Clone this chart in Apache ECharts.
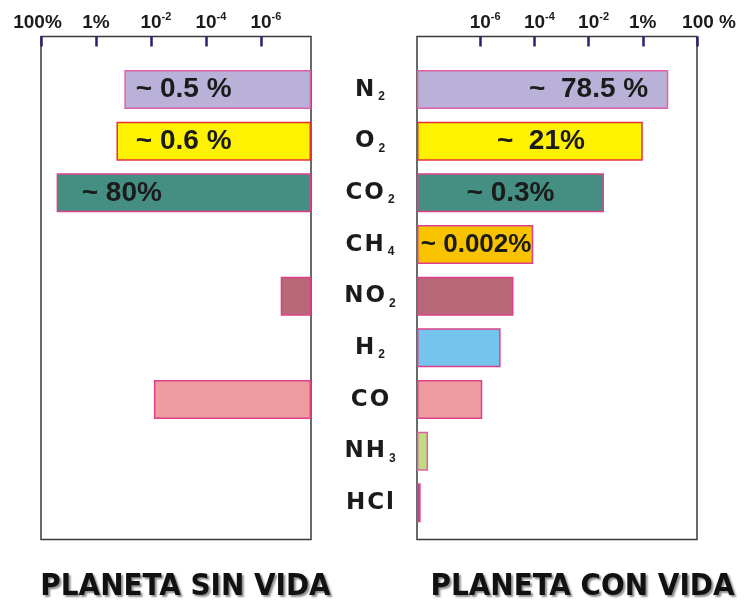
<!DOCTYPE html>
<html>
<head>
<meta charset="utf-8">
<title>Planeta sin vida / con vida</title>
<script src="https://cdn.jsdelivr.net/npm/echarts@6.0.0/dist/echarts.min.js"></script>
<style>
    html, body { margin: 0; padding: 0; background: #fff; }
    #main { width: 745px; height: 604px; }
</style>
</head>
<body>
<div id="main"></div>
<script type="text/javascript">
    // gases, top to bottom
    var gases = ['N2', 'O2', 'CO2', 'CH4', 'NO2', 'H2', 'CO', 'NH3', 'HCl'];

    // abundance in % read off the log scales (null = no bar)
    var sinVida = [0.093, 0.18, 27, null, 1.9e-7, null, 0.0078, null, null];
    var conVida = [8.7, 1.0, 0.037, 9.1e-5, 1.7e-5, 5.7e-6, 1.2e-6, 1.2e-8, 6.4e-9];

    // text written on the bars
    var sinVidaText = ['~ 0.5 %', '~ 0.6 %', '~ 80%', '', '', '', '', '', ''];
    var conVidaText = ['~  78.5 %', '~  21%', '~ 0.3%', '~ 0.002%', '', '', '', '', ''];

    // top scale (percent)
    var tickValues = [100, 1, 1e-2, 1e-4, 1e-6];
    var sinTickText = ['100%', '1%', '10-2', '10-4', '10-6'];
    var conTickText = ['100 %', '1%', '10-2', '10-4', '10-6'];

    var sinMin = 1.5e-8, conMin = 4.7e-9, maxPct = 100;

    // styles
    var gasColors = ['#b9b1d8', '#fff200', '#448f82', '#f9c300', '#b86878', '#74c4ee', '#ee9ca0', '#bedd82', '#7a4a9c'];
    var gasBorders = ['#e060a8', '#e8303a', '#e0408a', '#e0408a', '#e0408a', '#e0408a', '#e0408a', '#e060a8', '#e0408a'];
    var sinShift = [-34, -30, -62, 0, 0, 0, 0, 0, 0];
    var conShift = [46, 11, 0, 1, 0, 0, 0, 0, 0];
    var conSize = [28, 28, 28, 26, 28, 28, 28, 28, 28];
    var sinSize = [28, 28, 28, 28, 28, 28, 28, 28, 28];

    var INK = '#1b1b1b';
    var SANS = '"Liberation Sans", Arial, sans-serif';
    var WIDE = '"DejaVu Sans", Verdana, sans-serif';

    function tickFormatter(texts, big) {
        return function (v) {
            var k = -1;
            for (var i = 0; i < tickValues.length; i++) {
                if (Math.abs(Math.log10(v) - Math.log10(tickValues[i])) < 1e-6) k = i;
            }
            if (k < 0) return '';
            var t = texts[k];
            if (t.indexOf('10-') === 0) return '{nx|10}{e|' + t.slice(2) + '}';
            if (k === 0) return '{' + big + '|' + t + '}';
            return '{n|' + t + '}';
        };
    }

    var tickRich = {
        n: { fontSize: 19, fontWeight: 'bold', fontFamily: SANS, color: INK, lineHeight: 22 },
        nx: { fontSize: 19, fontWeight: 'bold', fontFamily: SANS, color: INK, lineHeight: 22, padding: [0, 0, 0, 10] },
        e: { fontSize: 11, fontWeight: 'bold', fontFamily: SANS, color: INK, lineHeight: 11, verticalAlign: 'top' },
        l: { fontSize: 19, fontWeight: 'bold', fontFamily: SANS, color: INK, lineHeight: 22, padding: [0, 7, 0, 0] },
        r: { fontSize: 19, fontWeight: 'bold', fontFamily: SANS, color: INK, lineHeight: 22, padding: [0, 0, 0, 24] }
    };

    function frameAxis(gridIndex, min, inverse, texts, big) {
        return {
            gridIndex: gridIndex, type: 'log', position: 'top', min: min, max: maxPct, inverse: inverse,
            axisLine: { show: false, onZero: false },
            splitLine: { show: false },
            axisTick: {
                show: true, inside: true, length: 10, customValues: tickValues,
                lineStyle: { color: '#2b2170', width: 2.5 }
            },
            axisLabel: {
                show: true, margin: 3, hideOverlap: false, customValues: tickValues,
                formatter: tickFormatter(texts, big), rich: tickRich
            }
        };
    }

    function gasLabel(v) {
        var out = '';
        for (var i = 0; i < v.length; i++) {
            var c = v.charAt(i);
            if (/\d/.test(c)) out += '{s|' + c + '}';
            else out += '{' + (i === 0 ? 'g0' : 'g') + '|' + c + '}';
        }
        return out;
    }

    function barData(values, texts, shifts, sizes) {
        return values.map(function (v, i) {
            return {
                value: v == null ? '-' : v,
                itemStyle: { color: gasColors[i], borderColor: gasBorders[i], borderWidth: 1.5 },
                label: { show: texts[i] !== '', formatter: texts[i], offset: [shifts[i], 0], fontSize: sizes[i] }
            };
        });
    }

    var barLabel = {
        position: 'inside', fontSize: 28, fontWeight: 'bold', fontFamily: SANS, color: INK
    };

    var titleFont = 'bold 31px "Liberation Sans Narrow", "DejaVu Sans Condensed", sans-serif';

    var chart = echarts.init(document.getElementById('main'));
    chart.setOption({
        animation: false,
        backgroundColor: '#fff',
        grid: [
            { left: 41, top: 36.5, width: 270, height: 503, show: true, borderColor: '#3a3a3a', borderWidth: 1.5, outerBoundsMode: 'none' },
            { left: 41, top: 63.7, width: 270, height: 465, outerBoundsMode: 'none' },
            { left: 417, top: 36.5, width: 280, height: 503, show: true, borderColor: '#3a3a3a', borderWidth: 1.5, outerBoundsMode: 'none' },
            { left: 417, top: 63.7, width: 280, height: 465, outerBoundsMode: 'none' }
        ],
        xAxis: [
            frameAxis(0, sinMin, true, sinTickText, 'l'),
            { gridIndex: 1, type: 'log', min: sinMin, max: maxPct, inverse: true, startValue: sinMin, show: false },
            frameAxis(2, conMin, false, conTickText, 'r'),
            { gridIndex: 3, type: 'log', min: conMin, max: maxPct, startValue: conMin, show: false }
        ],
        yAxis: [
            { gridIndex: 0, type: 'value', show: false },
            { gridIndex: 1, type: 'category', data: gases, inverse: true, show: false },
            { gridIndex: 2, type: 'value', show: false },
            {
                gridIndex: 3, type: 'category', data: gases, inverse: true,
                axisLine: { show: false }, axisTick: { show: false },
                axisLabel: {
                    margin: 47, align: 'center', formatter: gasLabel,
                    rich: {
                        g0: { fontSize: 23, fontWeight: 'bold', fontFamily: WIDE, color: INK, lineHeight: 26 },
                        g: { fontSize: 23, fontWeight: 'bold', fontFamily: WIDE, color: INK, lineHeight: 26, padding: [0, 0, 0, 2] },
                        s: { fontSize: 12, fontWeight: 'bold', fontFamily: SANS, color: INK, lineHeight: 13, verticalAlign: 'bottom', padding: [0, 0, 0, 4] }
                    }
                }
            }
        ],
        series: [
            {
                type: 'bar', xAxisIndex: 1, yAxisIndex: 1, barWidth: 39,
                label: barLabel, data: barData(sinVida, sinVidaText, sinShift, sinSize)
            },
            {
                type: 'bar', xAxisIndex: 3, yAxisIndex: 3, barWidth: 39,
                label: barLabel, data: barData(conVida, conVidaText, conShift, conSize)
            }
        ],
        graphic: [
            {
                type: 'text', x: 185.5, y: 587,
                style: {
                    text: 'PLANETA SIN VIDA', fill: '#111', align: 'center', verticalAlign: 'middle',
                    font: titleFont,
                    textShadowColor: 'rgba(0,0,0,0.45)', textShadowOffsetX: 2, textShadowOffsetY: 2, textShadowBlur: 2
                }
            },
            {
                type: 'text', x: 582.5, y: 587,
                style: {
                    text: 'PLANETA CON VIDA', fill: '#111', align: 'center', verticalAlign: 'middle',
                    font: titleFont,
                    textShadowColor: 'rgba(0,0,0,0.45)', textShadowOffsetX: 2, textShadowOffsetY: 2, textShadowBlur: 2
                }
            }
        ]
    });
</script>
</body>
</html>
